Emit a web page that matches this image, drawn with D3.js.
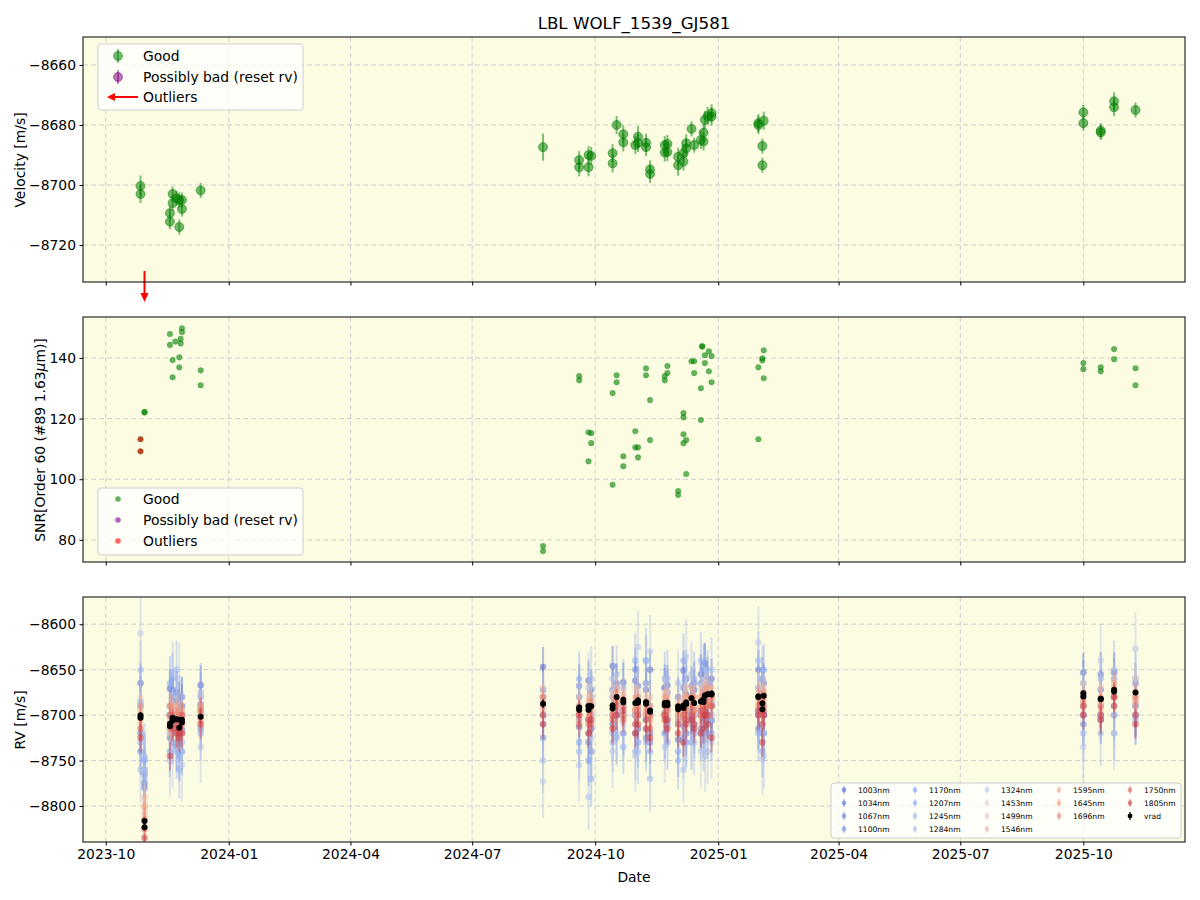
<!DOCTYPE html>
<html>
<head>
<meta charset="utf-8">
<script src="https://cdn.jsdelivr.net/npm/d3@7"></script>
<style>
body { margin: 0; background: #fff; }
svg { font-family: "DejaVu Sans", sans-serif; }
</style>
</head>
<body>
<svg id="chart" width="1200" height="900"></svg>
<script>
// ---- top panel: velocity (good points)
var velDates = ["2023-10-27","2023-10-27","2023-11-18","2023-11-18","2023-11-20","2023-11-20","2023-11-23","2023-11-25","2023-11-25","2023-11-27","2023-11-27","2023-12-11",
  "2024-08-23","2024-09-19","2024-09-19","2024-09-26","2024-09-26","2024-09-28","2024-10-14","2024-10-14","2024-10-17","2024-10-22","2024-10-22","2024-10-31",
  "2024-11-02","2024-11-02","2024-11-08","2024-11-08","2024-11-11","2024-11-11","2024-11-22","2024-11-22","2024-11-24","2024-11-24","2024-12-02","2024-12-02",
  "2024-12-06","2024-12-06","2024-12-08","2024-12-08","2024-12-12","2024-12-14","2024-12-19","2024-12-21","2024-12-21","2024-12-22","2024-12-24","2024-12-27","2024-12-27",
  "2025-01-31","2025-01-31","2025-02-03","2025-02-03","2025-02-04","2025-10-01","2025-10-01","2025-10-14","2025-10-14","2025-10-24","2025-10-24","2025-11-09"];
var velValues = [-8700.3,-8703,-8709.4,-8712.2,-8703,-8706,-8704.4,-8705,-8714,-8708,-8705,-8701.8,
  -8687.4,-8691.7,-8694.1,-8690,-8694.1,-8690.3,-8689.4,-8692.8,-8680,-8683.1,-8685.8,-8686.7,
  -8683.9,-8686,-8685.9,-8687.4,-8694.8,-8696.3,-8686.7,-8689.2,-8686.3,-8689,-8690.6,-8693.4,
  -8692.2,-8689.4,-8686.1,-8687.8,-8681.3,-8686.7,-8685,-8682.6,-8685.5,-8678.3,-8677,-8676.1,-8677.2,
  -8679.4,-8680,-8687,-8693.4,-8678.6,-8675.8,-8679.4,-8681.9,-8682.5,-8672.1,-8674.1,-8675];
var velErrors = [3.5,3,2.5,2.5,2.5,2.5,2.5,2.5,2.5,2.5,2.5,2.5,
  4.5,3,3,3,3,3,3,3,3,3,3,3,
  3.5,3,3,3,3,3,3,3,3,3,3,3.5,
  3,3,3,3,2.5,2.5,3,3,3,3,3,3,3,
  3,3,2.5,2.5,3,2.5,2.5,2.5,2.5,3,3,2.5];

// outliers (below the velocity range)
var outlierDates = ["2023-10-30","2023-10-30"];
var outlierValues = [-8816.5,-8823.4];

// ---- middle panel: SNR
var snrDates = ["2023-10-27","2023-10-27","2023-10-30","2023-10-30","2023-11-18","2023-11-18","2023-11-20","2023-11-20","2023-11-22","2023-11-25","2023-11-25","2023-11-26","2023-11-26","2023-11-27","2023-11-27","2023-12-11","2023-12-11",
  "2024-08-23","2024-08-23","2024-09-19","2024-09-19","2024-09-26","2024-09-26","2024-09-28","2024-09-28","2024-10-14","2024-10-14","2024-10-17","2024-10-17","2024-10-22","2024-10-22",
  "2024-10-31","2024-10-31","2024-11-02","2024-11-02","2024-11-08","2024-11-08","2024-11-11","2024-11-11","2024-11-22","2024-11-22","2024-11-24","2024-11-24","2024-12-02","2024-12-02",
  "2024-12-06","2024-12-06","2024-12-06","2024-12-06","2024-12-08","2024-12-08","2024-12-12","2024-12-14","2024-12-14","2024-12-19","2024-12-19","2024-12-20","2024-12-20",
  "2024-12-22","2024-12-22","2024-12-25","2024-12-25","2024-12-27","2024-12-27","2025-01-31","2025-01-31","2025-02-03","2025-02-03","2025-02-04","2025-02-04",
  "2025-10-01","2025-10-01","2025-10-14","2025-10-14","2025-10-24","2025-10-24","2025-11-09","2025-11-09"];
var snrValues = [113.2,109.2,122,122.2,147.9,144.3,139.3,133.6,145.4,140.2,136.9,146.3,144.8,149.8,148.5,135.9,131,
  78,76.3,134,132.6,115.5,105.9,115.2,111.9,128.4,98.2,134.3,132,107.6,104.3,
  115.8,110.5,110.5,107.2,136.6,134.3,126.1,112.9,134,132.6,137.3,135,96.1,94.8,
  121.8,120.4,114.8,111.9,112.9,101.7,138.9,138.9,135,130,119.5,143.9,143.7,
  140.9,138.3,142.2,135.6,140.6,132,136.9,113.2,139.9,139.2,142.5,133.3,
  138.3,136.3,136.9,135.6,142.9,139.6,136.6,131];
var snrOutDates = ["2023-10-27","2023-10-27"];
var snrOutValues = [113.2,109.2];

// ---- bottom panel: per-band RV, one value per night
var nights = ["2023-10-27","2023-10-30","2023-11-18","2023-11-20","2023-11-23","2023-11-25","2023-11-27","2023-12-11","2024-08-23","2024-09-19",
  "2024-09-26","2024-09-28","2024-10-14","2024-10-17","2024-10-22","2024-10-31","2024-11-02","2024-11-08","2024-11-11","2024-11-22",
  "2024-11-24","2024-12-02","2024-12-06","2024-12-08","2024-12-12","2024-12-14","2024-12-19","2024-12-21","2024-12-22","2024-12-24",
  "2024-12-27","2025-01-31","2025-02-03","2025-02-04","2025-10-01","2025-10-14","2025-10-24","2025-11-09"];
var bandNames = ["1003nm","1034nm","1067nm","1100nm","1170nm","1207nm","1245nm","1284nm","1324nm","1453nm","1499nm","1546nm","1595nm","1645nm","1696nm","1750nm","1805nm"];
var bandErrors = [22,22,24,26,28,30,32,36,40,18,16,15,12,12,13,14,16];
var rv1003 = [-8665,-8775,-8671,-8685,-8719,-8685,-8716,-8667,-8647,-8713,-8662,-8715,-8646,-8695,-8664,-8662,-8715,-8672,-8650,-8698,-8667,-8727,-8651,-8677,-8706,-8672,-8655,-8704,-8643,-8667,-8706,-8650,-8675,-8699,-8653,-8672,-8653,-8690];
var rv1034 = [-8690,-8780,-8725,-8672,-8698,-8730,-8680,-8688,-8672,-8680,-8705,-8672,-8710,-8665,-8700,-8700,-8668,-8705,-8720,-8670,-8705,-8680,-8712,-8700,-8668,-8700,-8700,-8670,-8690,-8700,-8660,-8695,-8710,-8665,-8690,-8700,-8660,-8665];
var rv1067 = [-8720,-8765,-8690,-8730,-8675,-8700,-8690,-8715,-8700,-8668,-8730,-8700,-8672,-8700,-8720,-8650,-8695,-8665,-8730,-8700,-8675,-8705,-8670,-8720,-8695,-8665,-8715,-8690,-8705,-8660,-8690,-8715,-8660,-8700,-8710,-8655,-8690,-8700];
var rv1100 = [-8740,-8760,-8700,-8680,-8735,-8690,-8740,-8690,-8725,-8705,-8690,-8740,-8700,-8670,-8690,-8720,-8700,-8725,-8700,-8670,-8710,-8690,-8725,-8660,-8700,-8710,-8665,-8720,-8670,-8700,-8685,-8670,-8700,-8720,-8665,-8705,-8680,-8690];
var rv1170 = [-8685,-8750,-8740,-8660,-8700,-8745,-8700,-8680,-8680,-8730,-8750,-8680,-8680,-8725,-8690,-8700,-8730,-8640,-8690,-8720,-8690,-8740,-8690,-8730,-8690,-8720,-8695,-8650,-8700,-8720,-8690,-8700,-8740,-8650,-8700,-8690,-8700,-8705];
var rv1207 = [-8730,-8748,-8665,-8720,-8740,-8720,-8690,-8720,-8710,-8660,-8690,-8770,-8720,-8700,-8735,-8640,-8700,-8700,-8740,-8660,-8730,-8710,-8640,-8690,-8730,-8660,-8720,-8690,-8650,-8700,-8720,-8720,-8680,-8700,-8680,-8660,-8720,-8660];
var rv1245 = [-8650,-8770,-8720,-8700,-8650,-8760,-8730,-8675,-8690,-8740,-8720,-8700,-8730,-8655,-8670,-8740,-8680,-8730,-8700,-8720,-8660,-8750,-8700,-8660,-8700,-8710,-8640,-8730,-8720,-8660,-8700,-8640,-8720,-8720,-8720,-8700,-8650,-8700];
var rv1284 = [-8760,-8745,-8700,-8655,-8690,-8735,-8720,-8700,-8750,-8690,-8790,-8660,-8660,-8720,-8700,-8710,-8740,-8640,-8770,-8690,-8700,-8665,-8760,-8720,-8655,-8730,-8700,-8700,-8660,-8740,-8650,-8700,-8660,-8745,-8700,-8720,-8700,-8685];
var rv1324 = [-8610,-8760,-8750,-8740,-8710,-8660,-8755,-8735,-8773,-8755,-8670,-8725,-8740,-8690,-8710,-8745,-8625,-8715,-8630,-8735,-8690,-8700,-8730,-8635,-8720,-8690,-8740,-8710,-8745,-8690,-8730,-8620,-8748,-8690,-8735,-8640,-8720,-8627];
var rv1453 = [-8680,-8795,-8700,-8690,-8720,-8700,-8695,-8690,-8670,-8700,-8680,-8700,-8675,-8695,-8700,-8670,-8700,-8680,-8710,-8675,-8700,-8685,-8700,-8670,-8690,-8700,-8670,-8700,-8665,-8690,-8685,-8670,-8700,-8690,-8665,-8690,-8660,-8690];
var rv1499 = [-8710,-8805,-8720,-8700,-8695,-8725,-8700,-8710,-8695,-8680,-8705,-8680,-8700,-8670,-8690,-8700,-8675,-8700,-8680,-8700,-8675,-8705,-8680,-8700,-8670,-8680,-8700,-8675,-8690,-8670,-8690,-8690,-8680,-8670,-8690,-8670,-8680,-8660];
var rv1546 = [-8695,-8790,-8690,-8715,-8700,-8690,-8720,-8695,-8680,-8705,-8695,-8700,-8680,-8690,-8675,-8695,-8690,-8690,-8700,-8685,-8695,-8700,-8690,-8680,-8685,-8695,-8680,-8690,-8680,-8685,-8670,-8685,-8700,-8685,-8680,-8695,-8675,-8680];
var rv1595 = [-8690,-8810,-8705,-8690,-8710,-8705,-8695,-8700,-8685,-8690,-8685,-8695,-8690,-8680,-8680,-8690,-8680,-8700,-8690,-8690,-8680,-8695,-8685,-8690,-8680,-8690,-8690,-8680,-8675,-8680,-8680,-8675,-8690,-8680,-8675,-8685,-8670,-8675];
var rv1645 = [-8705,-8800,-8690,-8700,-8695,-8715,-8700,-8690,-8690,-8700,-8700,-8685,-8695,-8675,-8690,-8680,-8695,-8685,-8705,-8680,-8690,-8700,-8695,-8680,-8690,-8680,-8680,-8690,-8680,-8670,-8680,-8690,-8685,-8675,-8690,-8680,-8665,-8685];
var rv1696 = [-8700,-8815,-8715,-8700,-8705,-8700,-8710,-8705,-8680,-8695,-8710,-8690,-8700,-8690,-8700,-8695,-8690,-8695,-8700,-8700,-8695,-8690,-8705,-8695,-8680,-8695,-8700,-8685,-8690,-8685,-8690,-8680,-8695,-8690,-8685,-8690,-8680,-8680];
var rv1750 = [-8715,-8825,-8700,-8715,-8715,-8720,-8700,-8695,-8700,-8710,-8705,-8710,-8705,-8685,-8705,-8710,-8700,-8705,-8715,-8700,-8705,-8710,-8700,-8705,-8700,-8710,-8695,-8700,-8695,-8700,-8690,-8695,-8710,-8695,-8690,-8700,-8690,-8700];
var rv1805 = [-8725,-8835,-8745,-8710,-8720,-8725,-8720,-8710,-8710,-8700,-8720,-8705,-8715,-8700,-8695,-8720,-8710,-8715,-8725,-8705,-8715,-8720,-8730,-8710,-8705,-8715,-8720,-8715,-8700,-8710,-8725,-8700,-8730,-8700,-8700,-8705,-8680,-8710];
var bandRvs = [rv1003,rv1034,rv1067,rv1100,rv1170,rv1207,rv1245,rv1284,rv1324,rv1453,rv1499,rv1546,rv1595,rv1645,rv1696,rv1750,rv1805];

var velTicks = [-8660,-8680,-8700,-8720];
var snrTicks = [80,100,120,140];
var rvTicks = [-8800,-8750,-8700,-8650,-8600];

// ---- setup
var parse = d3.timeParse("%Y-%m-%d");
var svg = d3.select("#chart");
var L = 83, R = 1185;
var panels = [{top: 37, bottom: 282}, {top: 317, bottom: 562}, {top: 597, bottom: 842}];
var bg = "#fcfce3", gridColor = "#cfcfcf";
var green = "#008000", purple = "#800080", red = "#ff0000";
var fmtMinus = function(d){ return String(d).replace("-", "\u2212"); };

var x = d3.scaleTime().domain([parse("2023-09-14"), parse("2025-12-16")]).range([L, R]);
var yVel = d3.scaleLinear().domain([-8732.3, -8650.7]).range([282, 37]);
var ySnr = d3.scaleLinear().domain([72.7, 153.5]).range([562, 317]);
var yRv = d3.scaleLinear().domain([-8839.6, -8570]).range([842, 597]);
var yScales = [yVel, ySnr, yRv];
var yTickSets = [velTicks, snrTicks, rvTicks];
var xTicks = x.ticks(d3.timeMonth.every(3));

var clips = [];
panels.forEach(function(p, i){
  svg.append("rect").attr("x", L).attr("y", p.top).attr("width", R - L).attr("height", p.bottom - p.top).attr("fill", bg);
  var cp = svg.append("clipPath").attr("id", "clip" + i);
  cp.append("rect").attr("x", L).attr("y", p.top).attr("width", R - L).attr("height", p.bottom - p.top);
  var g = svg.append("g");
  // grid
  g.selectAll(".gx").data(xTicks).enter().append("line")
    .attr("x1", function(d){ return x(d); }).attr("x2", function(d){ return x(d); })
    .attr("y1", p.top).attr("y2", p.bottom)
    .attr("stroke", gridColor).attr("stroke-dasharray", "5,3");
  g.selectAll(".gy").data(yTickSets[i]).enter().append("line")
    .attr("x1", L).attr("x2", R)
    .attr("y1", function(d){ return yScales[i](d); }).attr("y2", function(d){ return yScales[i](d); })
    .attr("stroke", gridColor).attr("stroke-dasharray", "5,3");
  clips.push(svg.append("g").attr("clip-path", "url(#clip" + i + ")"));
});

// ---- top panel marks
var velG = clips[0];
velDates.forEach(function(d, i){
  var cx = x(parse(d));
  velG.append("line").attr("x1", cx).attr("x2", cx)
    .attr("y1", yVel(velValues[i] - velErrors[i])).attr("y2", yVel(velValues[i] + velErrors[i]))
    .attr("stroke", green).attr("stroke-width", 2).attr("opacity", 0.5);
  velG.append("circle").attr("cx", cx).attr("cy", yVel(velValues[i])).attr("r", 4.5)
    .attr("fill", green).attr("fill-opacity", 0.55).attr("stroke", green).attr("stroke-opacity", 0.5);
});

// outlier arrow below the top panel
var ox = x(parse(outlierDates[0]));
svg.append("line").attr("x1", ox).attr("x2", ox).attr("y1", 271).attr("y2", 294)
  .attr("stroke", red).attr("stroke-width", 2);
svg.append("path").attr("d", "M" + (ox - 4) + ",293 L" + (ox + 4) + ",293 L" + ox + ",302 Z").attr("fill", red);

// ---- middle panel marks
var snrG = clips[1];
snrDates.forEach(function(d, i){
  snrG.append("circle").attr("cx", x(parse(d))).attr("cy", ySnr(snrValues[i])).attr("r", 2.8)
    .attr("fill", green).attr("fill-opacity", 0.6).attr("stroke", green).attr("stroke-opacity", 0.3).attr("stroke-width", 0.8);
});
snrOutDates.forEach(function(d, i){
  snrG.append("circle").attr("cx", x(parse(d))).attr("cy", ySnr(snrOutValues[i])).attr("r", 2.8)
    .attr("fill", red).attr("fill-opacity", 0.6);
});

// ---- bottom panel marks
var coolwarm = d3.scaleLinear()
  .domain([0, 0.25, 0.5, 0.75, 1])
  .range(["#3b4cc0", "#7b9ff9", "#dddcdc", "#f49a7b", "#b40426"])
  .interpolate(d3.interpolateRgb);
var waveColor = d3.scaleLinear().domain([950, 1880]).range([0, 1]);
function bandColor(b){ return coolwarm(waveColor(parseInt(bandNames[b]))); }
var rvG = clips[2];
bandRvs.forEach(function(vals, b){
  var col = bandColor(b);
  var e = bandErrors[b];
  nights.forEach(function(d, i){
    var cx = x(parse(d));
    rvG.append("line").attr("x1", cx).attr("x2", cx)
      .attr("y1", yRv(vals[i] - e)).attr("y2", yRv(vals[i] + e))
      .attr("stroke", col).attr("stroke-width", 2).attr("opacity", 0.4);
    rvG.append("circle").attr("cx", cx).attr("cy", yRv(vals[i])).attr("r", 3.3)
      .attr("fill", col).attr("opacity", 0.5);
  });
});
var vradDates = velDates.concat(outlierDates);
var vradValues = velValues.concat(outlierValues);
var vradErrors = velErrors.concat([3, 3]);
vradDates.forEach(function(d, i){
  var cx = x(parse(d));
  rvG.append("line").attr("x1", cx).attr("x2", cx)
    .attr("y1", yRv(vradValues[i] - vradErrors[i])).attr("y2", yRv(vradValues[i] + vradErrors[i]))
    .attr("stroke", "#000").attr("stroke-width", 1.5);
  rvG.append("circle").attr("cx", cx).attr("cy", yRv(vradValues[i])).attr("r", 3).attr("fill", "#000");
});

// ---- axes and frames
panels.forEach(function(p, i){
  var xa = d3.axisBottom(x).tickValues(xTicks).tickSize(3.5).tickPadding(3.5).tickFormat(i === 2 ? d3.timeFormat("%Y-%m") : "");
  var gx = svg.append("g").attr("transform", "translate(0," + p.bottom + ")").call(xa);
  var ya = d3.axisLeft(yScales[i]).tickValues(yTickSets[i]).tickSize(3.5).tickPadding(3.5).tickFormat(fmtMinus);
  var gy = svg.append("g").attr("transform", "translate(" + L + ",0)").call(ya);
  [gx, gy].forEach(function(g){
    g.select(".domain").remove();
    g.selectAll("text").attr("font-size", "13.9px").attr("font-family", "DejaVu Sans, sans-serif").attr("fill", "#000");
    g.selectAll("line").attr("stroke", "#000");
  });
  svg.append("rect").attr("x", L).attr("y", p.top).attr("width", R - L).attr("height", p.bottom - p.top)
    .attr("fill", "none").attr("stroke", "#000").attr("stroke-width", 1);
});

// ---- labels
svg.append("text").attr("x", 634).attr("y", 29).attr("text-anchor", "middle").attr("font-size", "16.7px").text("LBL WOLF_1539_GJ581");
svg.append("text").attr("x", 634).attr("y", 882).attr("text-anchor", "middle").attr("font-size", "13.9px").text("Date");
svg.append("text").attr("transform", "translate(25,160) rotate(-90)").attr("text-anchor", "middle").attr("font-size", "13.9px").text("Velocity [m/s]");
var snrLab = svg.append("text").attr("transform", "translate(45,440) rotate(-90)").attr("text-anchor", "middle").attr("font-size", "13.9px");
snrLab.append("tspan").text("SNR[Order 60 (#89 1.63");
snrLab.append("tspan").attr("font-style", "italic").text("\u03bc");
snrLab.append("tspan").text("m)]");
svg.append("text").attr("transform", "translate(25,720) rotate(-90)").attr("text-anchor", "middle").attr("font-size", "13.9px").text("RV [m/s]");

// ---- legends
function legendBox(x0, y0, w, h){
  svg.append("rect").attr("x", x0).attr("y", y0).attr("width", w).attr("height", h).attr("rx", 3)
    .attr("fill", "#fff").attr("fill-opacity", 0.8).attr("stroke", "#ccc");
}
function legendText(x0, y0, t, size){
  svg.append("text").attr("x", x0).attr("y", y0).attr("dy", "0.35em").attr("font-size", size || "13.9px").text(t);
}
// top legend
legendBox(98, 44, 205, 66);
[["Good", green, 56], ["Possibly bad (reset rv)", purple, 77]].forEach(function(e){
  svg.append("line").attr("x1", 118).attr("x2", 118).attr("y1", e[2] - 7).attr("y2", e[2] + 7)
    .attr("stroke", e[1]).attr("stroke-width", 2).attr("opacity", 0.5);
  svg.append("circle").attr("cx", 118).attr("cy", e[2]).attr("r", 4.5).attr("fill", e[1]).attr("fill-opacity", 0.55)
    .attr("stroke", e[1]).attr("stroke-opacity", 0.5);
  legendText(143, e[2], e[0]);
});
svg.append("line").attr("x1", 138).attr("x2", 114).attr("y1", 97).attr("y2", 97).attr("stroke", red).attr("stroke-width", 2);
svg.append("path").attr("d", "M115,93 L115,101 L107,97 Z").attr("fill", red);
legendText(143, 97, "Outliers");

// middle legend
legendBox(98, 488, 205, 67);
[["Good", green, 499], ["Possibly bad (reset rv)", purple, 520], ["Outliers", red, 541]].forEach(function(e){
  svg.append("circle").attr("cx", 118).attr("cy", e[2]).attr("r", 2.8).attr("fill", e[1]).attr("fill-opacity", 0.6);
  legendText(143, e[2], e[0]);
});

// bottom legend (5 columns)
legendBox(831, 783, 350, 55);
var colX = [844, 915, 987, 1059, 1130];
var rowY = [790, 803, 816, 829];
var colSizes = [4, 4, 4, 3, 3];
var entries = bandNames.map(function(n, b){ return {name: n, color: bandColor(b), op: 0.55}; });
entries.push({name: "vrad", color: "#000", op: 1});
var k = 0;
colSizes.forEach(function(n, c){
  for (var r = 0; r < n; r++){
    var en = entries[k++];
    svg.append("line").attr("x1", colX[c]).attr("x2", colX[c]).attr("y1", rowY[r] - 4).attr("y2", rowY[r] + 4)
      .attr("stroke", en.color).attr("stroke-width", 1.5).attr("opacity", en.op * 0.8);
    svg.append("circle").attr("cx", colX[c]).attr("cy", rowY[r]).attr("r", 2.4).attr("fill", en.color).attr("opacity", en.op);
    legendText(colX[c] + 14, rowY[r], en.name, "7.6px");
  }
});
</script>
</body>
</html>
